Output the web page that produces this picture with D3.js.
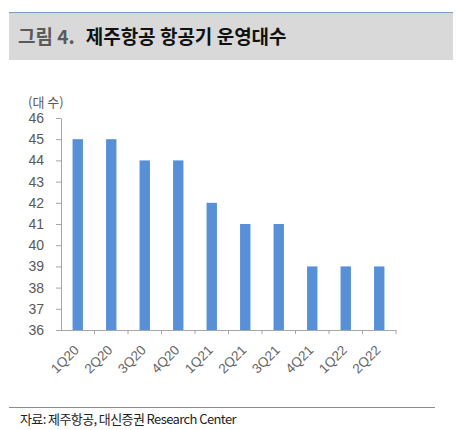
<!DOCTYPE html>
<html><head><meta charset="utf-8">
<script src="https://cdn.jsdelivr.net/npm/d3@7/dist/d3.min.js"></script>
<style>body{margin:0;background:#fff}svg{display:block}</style>
</head><body>
<svg id="c" width="457" height="430"></svg>
<script>
const categories = ["1Q20","2Q20","3Q20","4Q20","1Q21","2Q21","3Q21","4Q21","1Q22","2Q22"];
const values = [45,45,44,44,42,41,41,39,39,39];
const yTicks = [36,37,38,39,40,41,42,43,44,45,46];
const titlePrefix = "그림 4.";
const titleMain = "제주항공 항공기 운영대수";
const unitLabel = "(대 수)";
const sourceText = "자료: 제주항공, 대신증권 Research Center";

const svg = d3.select("#c");
const font = "'Noto Sans CJK KR', 'Liberation Sans', sans-serif";

// title band
svg.append("rect").attr("x",9).attr("y",12).attr("width",444).attr("height",48).attr("fill","#d9d9d9");
svg.append("line").attr("x1",9).attr("x2",453).attr("y1",12.5).attr("y2",12.5).attr("stroke","#7f9cc0").attr("stroke-width",1);
const t = svg.append("text").attr("x",18).attr("y",44).attr("font-family",font).attr("font-size",19).attr("font-weight","bold");
t.append("tspan").attr("fill","#5a5a5a").text(titlePrefix);
t.append("tspan").attr("fill","#111").attr("dx",11).text(titleMain);

const x = d3.scaleBand().domain(categories).range([61,396]).paddingInner(0.69).paddingOuter(0.345);
const y = d3.scaleLinear().domain([36,46]).range([330,118]);

// bars
svg.append("g").selectAll("rect").data(values).join("rect")
  .attr("x",(d,i)=>x(categories[i])).attr("width",x.bandwidth())
  .attr("y",d=>y(d)).attr("height",d=>y(36)-y(d)).attr("fill","#5890d8");

// y axis
const ya = svg.append("g").attr("transform","translate(61,0)")
  .call(d3.axisLeft(y).tickValues(yTicks).tickSize(5).tickPadding(12).tickSizeOuter(0));
ya.select(".domain").attr("stroke","#a6a6a6");
ya.selectAll(".tick line").attr("stroke","#a6a6a6");
ya.selectAll("text").attr("font-family","'Liberation Sans', Arial, sans-serif").attr("font-size",14).attr("fill","#595959");

// x axis with ticks at band boundaries
svg.append("line").attr("x1",61).attr("x2",396).attr("y1",330.5).attr("y2",330.5).attr("stroke","#a6a6a6");
const step = x.step();
const bounds = d3.range(categories.length+1).map(i=>61+i*step);
svg.append("g").selectAll("line").data(bounds.slice(1)).join("line")
  .attr("x1",d=>d).attr("x2",d=>d).attr("y1",330).attr("y2",334).attr("stroke","#a6a6a6");

svg.append("g").selectAll("text").data(categories).join("text")
  .attr("transform",d=>`translate(${x(d)+x.bandwidth()/2+2},${351}) rotate(-45)`)
  .attr("text-anchor","end").attr("font-family","'Liberation Sans', Arial, sans-serif")
  .attr("font-size",13.5).attr("fill","#666").text(d=>d);

// unit label
svg.append("text").attr("x",28).attr("y",107).attr("font-family",font).attr("font-size",13).attr("fill","#595959").text(unitLabel);

// source
svg.append("line").attr("x1",9).attr("x2",435).attr("y1",407.5).attr("y2",407.5).attr("stroke","#8c8c8c");
svg.append("text").attr("x",20).attr("y",424).attr("font-family",font).attr("font-size",13).attr("letter-spacing",-0.6).attr("fill","#222").text(sourceText);
</script>
</body></html>
